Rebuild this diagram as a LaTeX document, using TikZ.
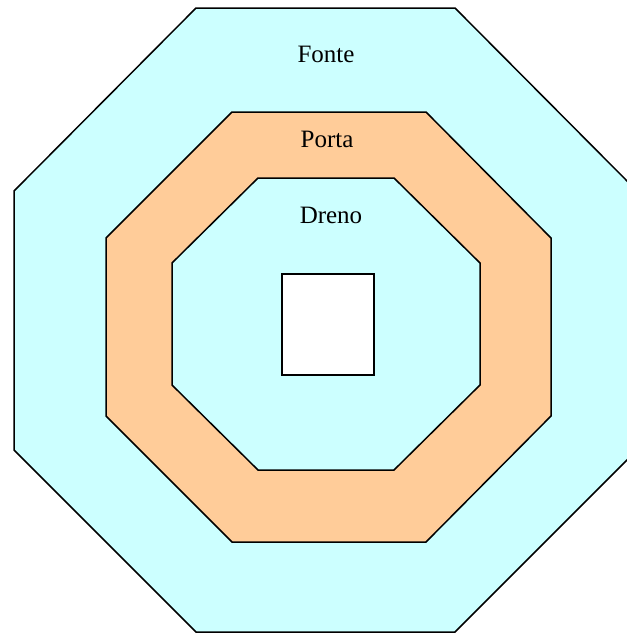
\documentclass[tikz,border=0pt]{standalone}
\usepackage{fontspec}
\setmainfont{Liberation Serif}
\definecolor{ciano}{HTML}{CCFFFF}
\definecolor{laranja}{HTML}{FFCC99}

\begin{document}
\begin{tikzpicture}[
    x=1pt, y=-1pt,
    regiao/.style={draw=black, line width=1.5pt, line join=miter},
    rotulo/.style={font=\fontsize{25}{30}\selectfont, anchor=base, inner sep=0pt}
]
\useasboundingbox (0,0) rectangle (627,633);
\clip (0,0) rectangle (627,633);

% fonte
\draw[regiao, fill=ciano] (196,8) -- (455,8) -- (637,191) -- (637,450) -- (455,632)
    -- (196,632) -- (14,450) -- (14,191) -- cycle;
% porta
\draw[regiao, fill=laranja] (232,112) -- (426,112) -- (551,238) -- (551,416) -- (426,542)
    -- (232,542) -- (106,416) -- (106,238) -- cycle;
% dreno
\draw[regiao, fill=ciano] (258,178) -- (394,178) -- (480,263) -- (480,385) -- (394,470)
    -- (258,470) -- (172,385) -- (172,263) -- cycle;
% contato
\draw[regiao, fill=white] (282,274) rectangle (374,375);

\node[rotulo] (fonte) at (326,62) {Fonte};
\node[rotulo] (porta) at (327,147) {Porta};
\node[rotulo] (dreno) at (331,223) {Dreno};

\end{tikzpicture}
\end{document}
